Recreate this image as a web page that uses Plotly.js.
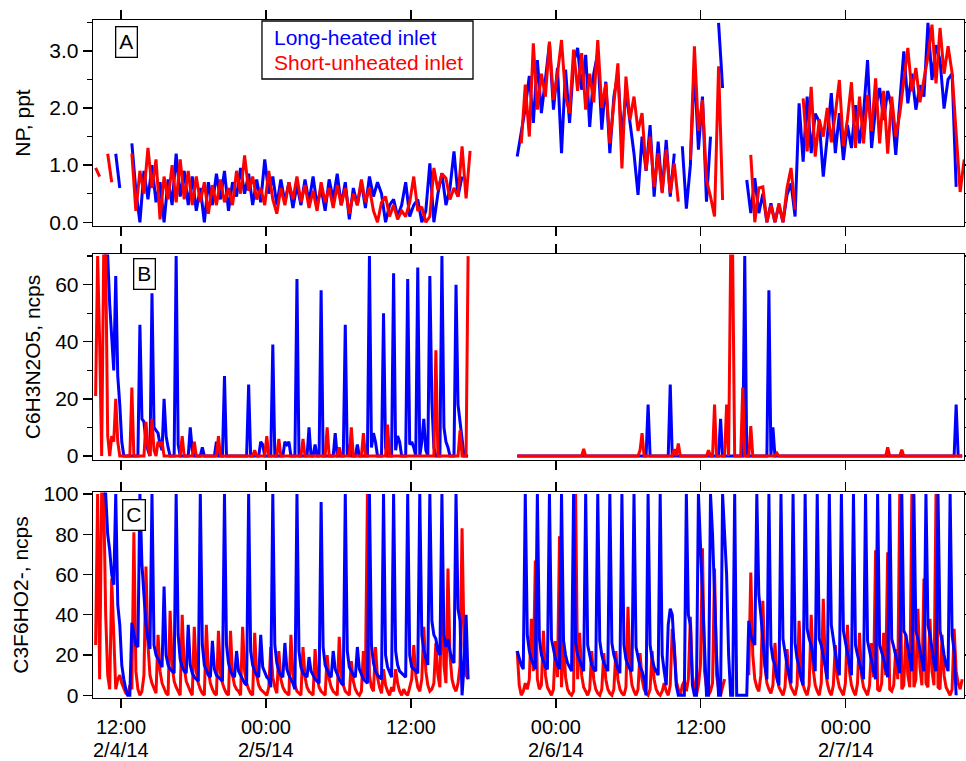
<!DOCTYPE html>
<html><head><meta charset="utf-8">
<script src="https://cdn.plot.ly/plotly-3.0.1.min.js"></script>
<style>html,body{margin:0;padding:0;background:#fff}#chart{width:966px;height:761px}</style>
</head><body><div id="chart"></div>
<script>
// ---- time base: hours after 2014-02-04 00:00 ----
const seg1Start = 9.9;    // 2/4/14 09:54
const seg2Start = 44.8;   // 2/5/14 20:48
const stepNP = 20;        // minutes between NP samples
const stepIon = 10;       // minutes between ion-signal samples

const tickDates = ['2014-02-04 12:00','2014-02-05 00:00','2014-02-05 12:00','2014-02-06 00:00','2014-02-06 12:00','2014-02-07 00:00'];
const tickLabels = ['12:00','00:00','12:00','00:00','12:00','00:00'];
const dateLabels = ['2/4/14','2/5/14','','2/6/14','','2/7/14'];
const seriesNames = ['Long-heated inlet','Short-unheated inlet'];
const panelLetters = ['A','B','C'];
const yTitles = ['NP, ppt','C6H3N2O5, ncps','C3F6HO2-, ncps'];

// ---- Panel A: NP, ppt ----
const npBlue1 = [null,null,null,null,null,1.2,0.6,null,null,1.38,
 0.55,0.0,0.9,0.4,1.0,0.35,0.7,0.0,0.75,0.3,
 1.2,0.45,0.9,0.3,0.8,0.2,0.6,0.0,0.7,0.3,
 0.85,0.4,0.9,0.2,0.7,0.45,0.95,0.5,0.85,0.3,
 0.75,0.35,1.1,0.5,0.8,0.3,0.75,0.35,0.7,0.25,
 0.65,0.3,0.75,0.35,0.8,0.3,0.6,0.2,0.75,0.4,
 0.85,0.3,0.7,0.05,0.6,0.3,0.7,0.25,0.8,0.45,
 0.7,0.5,0.0,0.3,0.4,0.1,0.3,0.7,0.1,0.3,
 0.4,0.0,0.2,1.03,0.0,0.5,0.86,0.3,0.6,1.24,
 0.45,0.8,null];
const npRed1 = [0.95,0.8,null,1.2,0.7,null,null,null,null,1.2,
 0.2,0.9,0.5,1.3,0.6,1.1,0.05,0.8,0.4,1.0,
 0.35,1.1,0.4,0.9,0.3,0.8,0.35,0.7,0.15,0.65,
 0.3,0.75,0.35,0.6,0.3,0.9,0.5,1.17,0.55,0.8,
 0.4,0.6,0.3,0.9,0.4,0.15,0.6,0.3,0.7,0.4,
 0.8,0.35,0.65,0.25,0.55,0.2,0.7,0.35,0.6,0.25,
 0.65,0.3,0.6,0.15,0.5,0.3,0.75,0.35,0.6,0.2,
 0.0,0.35,0.45,0.1,0.3,0.05,0.2,0.1,0.35,0.8,
 0.2,0.27,0.0,0.1,0.95,0.56,0.85,0.77,0.4,0.6,
 0.45,1.33,0.42,1.25];
const npBlue2 = [1.15,1.56,2.0,2.56,1.74,2.84,1.91,2.5,3.13,1.97,
 2.7,1.21,2.67,1.74,2.8,3.05,2.32,2.93,1.67,2.6,
 2.96,1.62,2.46,1.21,2.2,2.6,1.44,2.3,1.79,1.2,
 0.48,1.5,0.9,1.7,0.45,1.41,0.53,1.44,0.45,1.2,
 null,1.33,0.24,1.0,2.73,1.27,2.2,0.36,1.5,null,
 3.49,2.35,null,null,null,null,null,0.74,0.16,0.77,
 0.16,0.5,0.0,0.33,0.0,0.3,0.0,0.48,0.68,0.1,
 2.08,1.06,2.2,1.21,1.9,1.76,0.8,1.5,2.26,1.21,
 1.91,1.09,1.7,1.3,2.05,1.38,1.9,2.84,1.3,2.0,
 2.35,1.79,2.3,2.02,1.18,2.1,2.99,2.08,2.6,1.97,
 2.4,2.2,3.49,2.49,3.1,2.84,1.99,2.5,2.6,0.62,
 null];
const npRed2 = [null,1.38,2.41,1.5,3.13,1.97,2.6,2.2,3.16,2.14,
 2.6,3.19,2.2,1.91,3.02,2.3,2.96,1.97,2.6,2.1,
 3.19,2.0,2.43,1.38,2.1,2.78,0.94,2.55,1.79,2.2,
 1.6,1.91,0.91,1.5,0.62,1.21,0.51,1.27,0.51,1.03,
 0.36,null,null,1.09,3.08,1.6,2.14,0.74,0.45,0.1,
 2.73,0.39,null,null,null,null,null,null,1.18,0.0,
 0.6,0.62,0.0,0.3,0.0,0.33,0.0,0.6,0.95,0.22,
 null,2.17,1.24,2.37,1.15,1.8,1.5,2.0,1.4,1.9,
 2.49,1.33,1.8,2.45,1.3,2.2,1.38,2.23,1.6,2.52,
 1.38,2.3,1.2,2.2,1.5,1.9,2.5,3.05,2.29,2.7,
 2.1,2.5,2.9,3.46,2.43,3.4,2.6,3.08,2.61,1.56,
 0.53,1.1];

// ---- Panel B: C6H3N2O5, ncps ----
const b5Blue1 = [null,null,null,null,70,70,70,53,40,30,
 63,28,18,5,0,0,0,0,0,0,
 0,0,46,13,12,5,2,0,57,10,
 9,8,4,2,20,7,3,0,0,0,
 70,4,0,0,0,0,0,10,2,0,
 0,0,0,3,0,0,0,0,0,0,
 5,0,0,0,28,0,0,0,0,0,
 0,0,0,0,0,0,25,0,0,0,
 0,0,5,4,0,0,0,0,39,0,
 0,0,0,0,5,4,5,0,0,0,
 62,0,0,0,0,0,10,0,0,4,
 0,0,58,0,0,0,0,0,0,8,
 0,0,0,0,46,0,4,0,0,0,
 4,0,0,0,0,0,70,3,8,5,
 0,0,0,50,3,0,0,0,64,2,
 7,5,0,0,0,62,4,5,3,0,
 66,0,5,13,2,0,63,19,3,0,
 0,0,70,10,5,3,0,0,0,60,
 18,12,5,0,0,0];
const b5Red1 = [21,70,40,0,70,70,7,0,7,5,
 20,5,0,0,0,0,0,0,24,0,
 0,0,0,0,0,12,3,0,13,2,
 0,5,4,5,0,0,0,0,0,0,
 0,0,0,7,0,0,0,0,0,5,
 0,0,0,0,0,0,0,0,0,0,
 0,7,0,0,0,0,0,0,0,0,
 0,0,0,0,0,0,0,0,0,2,
 0,0,0,0,0,7,0,0,0,0,
 0,6,0,0,0,0,0,0,0,0,
 0,0,0,6,0,0,0,0,0,0,
 0,0,0,0,0,10,0,0,0,0,
 0,3,0,0,0,0,0,10,0,0,
 0,0,0,8,0,0,0,0,0,0,
 0,0,0,0,0,11,0,0,0,0,
 0,0,0,0,0,0,0,0,0,0,
 0,0,0,0,0,0,0,0,0,37,
 0,0,0,0,0,0,0,0,0,0,
 0,9,0,0,0,70];
const b5Blue2 = [0,0,0,0,0,0,0,0,0,0,
 0,0,0,0,0,0,0,0,0,0,
 0,0,0,0,0,0,0,0,0,0,
 0,0,0,0,0,0,0,0,0,0,
 0,0,0,0,0,0,0,0,0,0,
 0,0,0,0,0,0,0,0,0,0,
 0,0,0,0,0,18,0,0,0,0,
 0,0,0,0,0,0,25,0,0,0,
 0,0,0,0,0,0,0,0,0,0,
 0,0,0,0,0,0,0,0,0,0,
 0,13,0,0,0,0,0,0,0,0,
 0,0,0,70,0,0,0,0,0,0,
 0,0,0,0,0,58,0,10,0,0,
 0,0,0,0,0,0,0,0,0,0,
 0,0,0,0,0,0,0,0,0,0,
 0,0,0,0,0,0,0,0,0,0,
 0,0,0,0,0,0,0,0,0,0,
 0,0,0,0,0,0,0,0,0,0,
 0,0,0,0,0,0,0,0,0,0,
 0,0,0,0,0,0,0,0,0,0,
 0,0,0,0,0,0,0,0,0,0,
 0,0,0,0,0,0,0,0,18,0,
 0,0];
const b5Red2 = [0,0,0,0,0,0,0,0,0,0,
 0,0,0,0,0,0,0,0,0,0,
 0,0,0,0,0,0,0,0,0,0,
 0,0,0,2.5,0,0,0,0,0,0,
 0,0,0,0,0,0,0,0,0,0,
 0,0,0,0,0,0,0,0,0,0,
 0,2,8,0,0,0,0,0,0,0,
 0,0,0,0,0,0,0,0,2.4,0,
 4.4,0,0,0,0,0,0,0,0,0,
 0,0,0,0,0,2,0,0,18,0,
 0,0,0,0,18,0,70,70,0,0,
 0,0,24,0,0,0,10.5,0,0,0,
 0,0,0,0,0,0,0,0,0,1,
 0,0,0,0,0,0,0,0,0,0,
 0,0,0,0,0,0,0,0,0,0,
 0,0,0,0,0,0,0,0,0,0,
 0,0,0,0,0,0,0,0,0,0,
 0,0,0,0,0,0,0,0,0,0,
 0,0,0,0,3,0,0,0,0,0,
 0,2.2,0,0,0,0,0,0,0,0,
 0,0,0,0,0,0,0,0,0,0,
 0,0,0,0,0,0,0,0,0,0,
 0,0];

// ---- Panel C: C3F6HO2-, ncps ----
const c3Blue1 = [null,null,null,null,100,100,80,72,60,55,
 100,45,35,15,8,3,0,0,36,30,
 25,24,100,65,48,35,28,23,100,25,
 20,18,16,14,54,20,15,13,12,11,
 100,30,18,14,12,11,35,15,11,9,
 8,7,100,25,15,12,10,9,27,13,
 10,9,8,7,100,25,16,12,10,9,
 22,12,10,8,6,5,100,22,15,12,
 10,9,30,14,11,9,8,4,100,25,
 16,12,10,9,26,13,10,8,6,3,
 100,22,14,11,10,9,19,12,10,8,
 7,6,96,24,15,12,10,9,22,13,
 10,8,6,5,100,22,14,12,10,9,
 24,13,10,8,7,6,100,25,16,12,
 10,9,8,100,20,14,11,9,100,22,
 15,12,11,10,9,100,20,14,13,12,
 11,100,30,22,18,15,100,37,30,28,
 22,20,100,30,24,28,22,18,16,100,
 43,37,0,15,40,8];
const c3Red1 = [25,100,8,100,100,40,10,3,58,30,
 3,8,10,6,3,1,0,5,3,81,
 12,3,0,2,10,64,25,10,6,3,
 1,30,12,6,3,1,0,42,15,7,
 4,2,0,40,14,7,4,2,0,34,
 12,6,3,1,0,35,12,6,3,1,
 0,32,11,6,3,1,0,32,10,5,
 3,2,0,34,12,6,3,1,0,31,
 10,5,3,2,1,0,4,24,9,4,
 1,22,8,4,2,1,0,30,10,5,
 2,1,0,24,9,4,2,1,0,23,
 9,4,2,1,0,20,8,4,2,1,
 0,29,10,5,2,1,0,17,7,3,
 1,0,2,22,8,100,10,4,2,24,
 9,4,1,13,5,2,0,4,2,13,
 6,2,0,3,1,0,4,8,25,10,
 4,2,8,34,12,5,2,3,6,26,
 10,4,60,15,6,63,20,8,4,2,
 6,15,83,25,10,8];
const c3Blue2 = [22,18,15,13,100,30,22,18,15,13,
 100,28,20,17,14,13,100,28,22,18,
 15,13,100,27,20,16,14,12,100,26,
 20,17,14,12,100,25,20,15,13,12,
 100,27,20,16,14,12,100,26,20,16,
 13,11,100,25,18,15,13,12,100,24,
 18,14,12,8,0,100,25,18,14,12,
 10,100,20,12,5,35,43,40,25,5,
 0,0,0,0,100,40,35,5,0,0,
 100,75,50,20,0,0,100,80,48,20,
 0,0,100,82,60,20,0,0,100,0,
 0,0,0,0,0,37,30,27,25,100,
 50,40,25,15,8,100,25,18,15,8,
 5,100,28,20,15,10,6,100,26,18,
 14,8,5,100,33,28,25,18,12,100,
 28,25,20,14,8,100,35,28,20,14,
 10,100,32,26,22,16,10,100,25,20,
 16,12,8,100,27,22,16,12,8,100,
 25,22,18,13,9,100,28,24,20,15,
 11,100,32,30,24,18,12,100,32,28,
 22,16,12,100,35,30,22,16,12,100,
 32,27,20,15,12,100,30,22,0];
const c3Red2 = [22,5,0,2,6,3,8,38,12,67,
 8,3,5,32,10,4,2,0,3,27,
 9,79,4,27,9,3,1,0,2,100,
 8,31,10,4,2,0,3,22,8,3,
 1,0,3,21,8,3,1,0,3,22,
 8,3,1,0,4,44,14,5,2,0,
 3,21,8,3,1,0,3,22,8,3,
 1,0,2,6,2,0,5,33,25,7,
 3,0,5,7,2,8,39,10,3,0,
 5,15,73,12,4,0,2,6,63,10,
 3,0,4,8,null,null,null,null,null,null,
 null,null,null,null,null,10,61,20,8,4,
 2,10,47,15,6,3,1,5,26,10,
 4,2,0,4,23,9,4,2,0,5,
 37,12,5,2,0,5,40,13,5,2,
 0,6,48,15,6,2,0,5,25,9,
 4,2,0,6,35,12,5,2,0,6,
 31,10,4,2,0,5,26,9,72,3,
 2,6,31,10,71,3,2,5,23,8,
 100,3,5,30,10,4,100,4,8,43,
 14,5,58,6,4,38,12,5,100,4,
 3,30,10,4,2,0,3,33,12,6,
 3,8];

const BLUE = '#0000ff', RED = '#ff0000';
const FONT = 'Liberation Sans, Arial, Helvetica, sans-serif';

function stamp(h) {
  const ms = Date.UTC(2014, 1, 4) + Math.round(h * 3600000);
  return new Date(ms).toISOString().slice(0, 19).replace('T', ' ');
}
function times(startH, stepMin, n) {
  const t = [];
  for (let i = 0; i < n; i++) t.push(stamp(startH + i * stepMin / 60));
  return t;
}
function tr(vals, startH, stepMin, color, xa, ya) {
  return {type: 'scatter', mode: 'lines', x: times(startH, stepMin, vals.length), y: vals,
    xaxis: xa, yaxis: ya, line: {color: color, width: 3}, connectgaps: false,
    hoverinfo: 'skip', showlegend: false};
}

const data = [
  tr(npBlue1, seg1Start, stepNP, BLUE, 'x', 'y'),
  tr(npBlue2, seg2Start, stepNP, BLUE, 'x', 'y'),
  tr(npRed1, seg1Start, stepNP, RED, 'x', 'y'),
  tr(npRed2, seg2Start, stepNP, RED, 'x', 'y'),
  tr(b5Blue1, seg1Start, stepIon, BLUE, 'x2', 'y2'),
  tr(b5Blue2, seg2Start, stepIon, BLUE, 'x2', 'y2'),
  tr(b5Red1, seg1Start, stepIon, RED, 'x2', 'y2'),
  tr(b5Red2, seg2Start, stepIon, RED, 'x2', 'y2'),
  tr(c3Red1, seg1Start, stepIon, RED, 'x3', 'y3'),
  tr(c3Red2, seg2Start, stepIon, RED, 'x3', 'y3'),
  tr(c3Blue1, seg1Start, stepIon, BLUE, 'x3', 'y3'),
  tr(c3Blue2, seg2Start, stepIon, BLUE, 'x3', 'y3')
];

const base = {showline: true, linecolor: '#000', linewidth: 1.3, mirror: 'ticks', ticks: 'outside',
  tickcolor: '#000', tickwidth: 1.3, ticklen: 9, showgrid: false, zeroline: false,
  tickfont: {family: FONT, size: 21, color: '#000'}, automargin: false};
const xRange = ['2014-02-04 09:41', '2014-02-07 09:47'];
function xax(anchor, labels) {
  const o = Object.assign({}, base, {type: 'date', range: xRange, tickmode: 'array',
    tickvals: tickDates, ticktext: tickLabels, anchor: anchor, showticklabels: labels, ticklabelstandoff: 2,
    tickfont: {family: FONT, size: 20, color: '#000'}});
  if (anchor !== 'y') o.matches = 'x';
  return o;
}
function yax(domain, range, dtick, minor, title, standoff, fmt) {
  const o = Object.assign({}, base, {domain: domain, range: range, dtick: dtick, tick0: 0,
    title: {text: title, font: {family: FONT, size: 21, color: '#000'}, standoff: standoff}});
  if (fmt) o.tickformat = fmt;
  if (minor) o.minor = {dtick: minor, tick0: 0, ticklen: 5, tickwidth: 1.3, tickcolor: '#000', ticks: 'outside'};
  return o;
}

const annotations = [
  {text: seriesNames[0], xref: 'paper', yref: 'paper', x: 0.2052, y: 0.9735, xanchor: 'left', yanchor: 'middle',
   showarrow: false, font: {family: FONT, size: 21, color: BLUE}},
  {text: seriesNames[1], xref: 'paper', yref: 'paper', x: 0.2052, y: 0.9366, xanchor: 'left', yanchor: 'middle',
   showarrow: false, font: {family: FONT, size: 21, color: RED}},
  {text: panelLetters[0], xref: 'paper', yref: 'paper', x: 0.03846, y: 0.9676, xanchor: 'center', yanchor: 'middle',
   showarrow: false, font: {family: FONT, size: 21, color: '#000'}, bordercolor: '#000', borderwidth: 1.3, borderpad: 3, bgcolor: '#fff'},
  {text: panelLetters[1], xref: 'paper', yref: 'paper', x: 0.0597, y: 0.6254, xanchor: 'center', yanchor: 'middle',
   showarrow: false, font: {family: FONT, size: 21, color: '#000'}, bordercolor: '#000', borderwidth: 1.3, borderpad: 3, bgcolor: '#fff'},
  {text: panelLetters[2], xref: 'paper', yref: 'paper', x: 0.0471, y: 0.2706, xanchor: 'center', yanchor: 'middle',
   showarrow: false, font: {family: FONT, size: 21, color: '#000'}, bordercolor: '#000', borderwidth: 1.3, borderpad: 3, bgcolor: '#fff'}
];
// date line under the midnight / first tick labels
tickDates.forEach((d, k) => {
  if (dateLabels[k]) annotations.push({text: dateLabels[k], xref: 'x3', yref: 'paper', x: d, y: -0.0760,
    xanchor: 'center', yanchor: 'middle', showarrow: false, font: {family: FONT, size: 20, color: '#000'}});
});

const layout = {
  width: 966, height: 761,
  margin: {l: 93, r: 2, t: 20, b: 63},
  paper_bgcolor: '#fff', plot_bgcolor: '#fff',
  font: {family: FONT, size: 21, color: '#000'},
  showlegend: false,
  xaxis: Object.assign(xax('y', false), {domain: [0, 1]}),
  xaxis2: Object.assign(xax('y2', false), {domain: [0, 1]}),
  xaxis3: Object.assign(xax('y3', true), {domain: [0, 1]}),
  yaxis: Object.assign(yax([0.6962, 1], [-0.065, 3.54], 1, 0.5, yTitles[0], 13, '.1f'), {anchor: 'x'}),
  yaxis2: Object.assign(yax([0.351, 0.6549], [-1.4, 70.75], 20, 10, yTitles[1], 8), {anchor: 'x2'}),
  yaxis3: Object.assign(yax([0, 0.3038], [-1.35, 101], 20, null, yTitles[2], 9), {anchor: 'x3'}),
  shapes: [
    {type: 'rect', xref: 'paper', yref: 'paper', x0: 0.1940, x1: 0.4363, y0: 0.9130, y1: 0.9985,
     line: {color: '#000', width: 1.3}, fillcolor: '#fff', layer: 'above'}
  ],
  annotations: annotations
};

Plotly.newPlot('chart', data, layout, {staticPlot: true, displayModeBar: false});
</script>
</body></html>
